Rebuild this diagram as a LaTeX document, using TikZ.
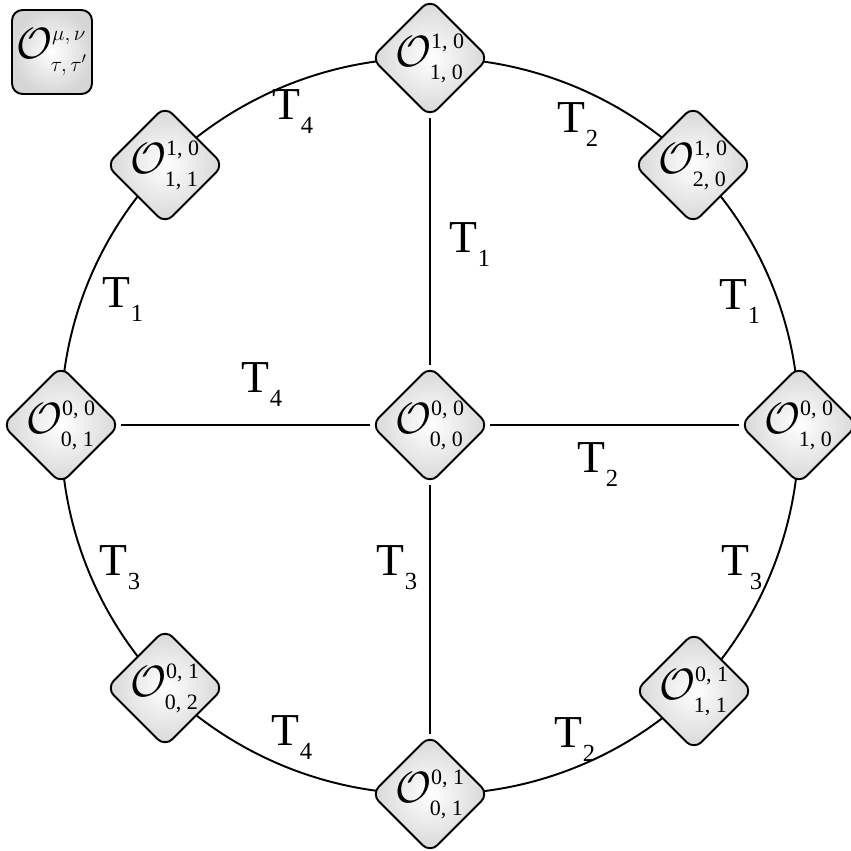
\documentclass[tikz,border=0pt]{standalone}
\usepackage{fontspec}
\setmainfont{Liberation Serif}
\usetikzlibrary{shapes.geometric,backgrounds}
\newcommand{\Opx}[2]{{\fontsize{26}{26}\selectfont$\mathcal{O}^{\raisebox{1.2pt}{\fontsize{12.5}{12.5}\selectfont #1}}_{\raisebox{-1.2pt}{\fontsize{12.5}{12.5}\selectfont #2}}$}}
\newcommand{\Tlab}[1]{{\fontsize{26}{26}\selectfont T}\raisebox{-8pt}{\fontsize{14}{14}\selectfont #1}}
\tikzset{
  opnode/.style={diamond, draw=black, line width=1.1pt, rounded corners=6pt,
    inner sep=0pt, minimum size=2.36cm, shade, inner color=white, outer color=gray!32},
  keynode/.style={rectangle, draw=black, line width=1.1pt, rounded corners=6pt,
    inner sep=0pt, minimum width=1.6cm, minimum height=1.68cm, shade, inner color=white, outer color=gray!32},
  oplab/.style={inner sep=0pt},
  conn/.style={line width=1.1pt},
  arcconn/.style={line width=1.1pt, bend right=22.5, looseness=0.885},
  tlab/.style={inner sep=0pt}
}
\begin{document}
\begin{tikzpicture}[x=0.02cm, y=-0.02cm]
\useasboundingbox (0,0) rectangle (850,851);
% nodes
\node[opnode, label={[oplab]center:\Opx{0, 0}{0, 0}}] (c)  at (430,425) {};
\node[opnode, label={[oplab]center:\Opx{1, 0}{1, 0}}] (t)  at (430,58)  {};
\node[opnode, label={[oplab]center:\Opx{0, 1}{0, 1}}] (b)  at (430,794) {};
\node[opnode, label={[oplab]center:\Opx{0, 0}{0, 1}}] (l)  at (61,425)  {};
\node[opnode, label={[oplab]center:\Opx{0, 0}{1, 0}}] (r)  at (799,425) {};
\node[opnode, label={[oplab]center:\Opx{1, 0}{1, 1}}] (ul) at (165,165) {};
\node[opnode, label={[oplab]center:\Opx{1, 0}{2, 0}}] (ur) at (693,165) {};
\node[opnode, label={[oplab]center:\Opx{0, 1}{0, 2}}] (ll) at (165,688) {};
\node[opnode, label={[oplab]center:\Opx{0, 1}{1, 1}}] (lr) at (694,691) {};
\node[keynode, label={[oplab]center:\Opx{$\mu, \nu$}{$\tau, \tau'$}}] (key) at (52,52) {};
% connectors
\begin{scope}[on background layer]
\draw[arcconn] (t.center) to (ul.center);
\draw[arcconn] (ul.center) to (l.center);
\draw[arcconn] (l.center) to (ll.center);
\draw[arcconn] (ll.center) to (b.center);
\draw[arcconn] (b.center) to (lr.center);
\draw[arcconn] (lr.center) to (r.center);
\draw[arcconn] (r.center) to (ur.center);
\draw[arcconn] (ur.center) to (t.center);
\end{scope}
\draw[conn] (c) -- (t);
\draw[conn] (c) -- (b);
\draw[conn] (c) -- (l);
\draw[conn] (c) -- (r);
% labels
\node[tlab] (la1) at (293,112) {\Tlab{4}};
\node[tlab] (la2) at (578,125) {\Tlab{2}};
\node[tlab] (la3) at (470,245) {\Tlab{1}};
\node[tlab] (la4) at (123,300) {\Tlab{1}};
\node[tlab] (la5) at (740,302) {\Tlab{1}};
\node[tlab] (la6) at (262,385) {\Tlab{4}};
\node[tlab] (la7) at (598,465) {\Tlab{2}};
\node[tlab] (la8) at (120,568) {\Tlab{3}};
\node[tlab] (la9) at (397,568) {\Tlab{3}};
\node[tlab] (la10) at (742,568) {\Tlab{3}};
\node[tlab] (la11) at (292,738) {\Tlab{4}};
\node[tlab] (la12) at (575,740) {\Tlab{2}};
\end{tikzpicture}
\end{document}
